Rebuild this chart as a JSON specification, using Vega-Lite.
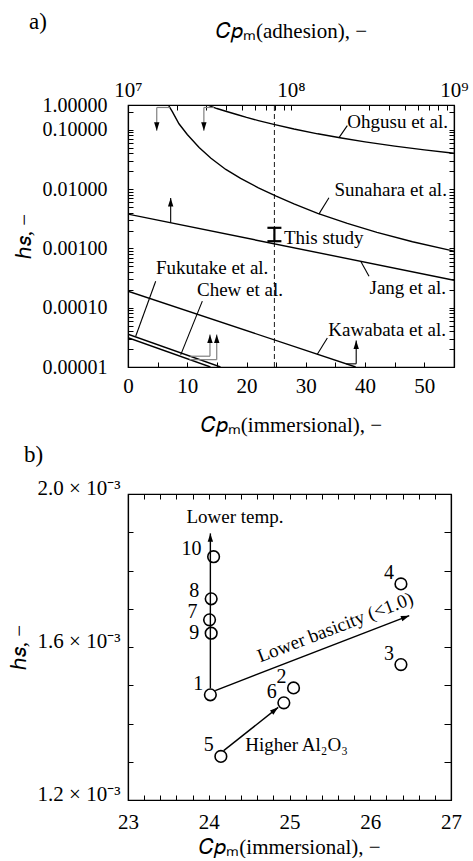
{
  "$schema": "https://vega.github.io/schema/vega-lite/v6.json",
  "background": "white",
  "padding": {"left": 7, "top": 10, "right": 5, "bottom": 0},
  "bounds": "flush",
  "spacing": 127,
  "config": {
    "font": "Liberation Serif",
    "view": {"stroke": "black", "strokeWidth": 1.2},
    "axis": {
      "grid": false, "domainColor": "black", "domainWidth": 1.2, "tickColor": "black", "tickWidth": 1,
      "labelColor": "black", "titleColor": "black", "labelFont": "Liberation Serif", "titleFont": "Liberation Serif",
      "labelFontSize": 21, "titleFontSize": 21, "titleFontWeight": "normal", "tickSize": -5, "labelPadding": 16,
      "labelFlush": false, "labelOverlap": false, "labelBound": false
    },
    "text": {"font": "Liberation Serif", "fontSize": 19, "color": "black"},
    "title": {"font": "Liberation Serif", "fontSize": 23, "fontWeight": "normal", "color": "black"}
  },
  "datasets": {
    "curves": [
      {"series": "Ohgusu", "cp": 13.5, "hs": 0.261},
      {"series": "Ohgusu", "cp": 14, "hs": 0.248},
      {"series": "Ohgusu", "cp": 15, "hs": 0.2275},
      {"series": "Ohgusu", "cp": 16.5, "hs": 0.2046},
      {"series": "Ohgusu", "cp": 18.5, "hs": 0.1786},
      {"series": "Ohgusu", "cp": 20, "hs": 0.1614},
      {"series": "Ohgusu", "cp": 22, "hs": 0.1426},
      {"series": "Ohgusu", "cp": 24.6, "hs": 0.123},
      {"series": "Ohgusu", "cp": 28, "hs": 0.1028},
      {"series": "Ohgusu", "cp": 32, "hs": 0.0853},
      {"series": "Ohgusu", "cp": 36, "hs": 0.0724},
      {"series": "Ohgusu", "cp": 40, "hs": 0.0624},
      {"series": "Ohgusu", "cp": 45, "hs": 0.053},
      {"series": "Ohgusu", "cp": 50, "hs": 0.0457},
      {"series": "Ohgusu", "cp": 55, "hs": 0.04},
      {"series": "Sunahara", "cp": 6.8, "hs": 0.261},
      {"series": "Sunahara", "cp": 7.5, "hs": 0.2},
      {"series": "Sunahara", "cp": 8.6, "hs": 0.126},
      {"series": "Sunahara", "cp": 10, "hs": 0.0832},
      {"series": "Sunahara", "cp": 12, "hs": 0.0501},
      {"series": "Sunahara", "cp": 14, "hs": 0.0331},
      {"series": "Sunahara", "cp": 16.5, "hs": 0.0214},
      {"series": "Sunahara", "cp": 19, "hs": 0.0151},
      {"series": "Sunahara", "cp": 22, "hs": 0.01047},
      {"series": "Sunahara", "cp": 25, "hs": 0.00759},
      {"series": "Sunahara", "cp": 28, "hs": 0.00562},
      {"series": "Sunahara", "cp": 32, "hs": 0.00389},
      {"series": "Sunahara", "cp": 37, "hs": 0.00263},
      {"series": "Sunahara", "cp": 42, "hs": 0.00186},
      {"series": "Sunahara", "cp": 48, "hs": 0.00129},
      {"series": "Sunahara", "cp": 55, "hs": 0.000897},
      {"series": "Jang", "cp": 0, "hs": 0.00378},
      {"series": "Jang", "cp": 55, "hs": 0.00029},
      {"series": "Kawabata", "cp": 0, "hs": 0.00019},
      {"series": "Kawabata", "cp": 38.4, "hs": 0.00001},
      {"series": "Fukutake", "cp": 0, "hs": 0.0000357},
      {"series": "Fukutake", "cp": 15.6, "hs": 0.00001},
      {"series": "Chew", "cp": 0, "hs": 0.0000311},
      {"series": "Chew", "cp": 13.9, "hs": 0.00001}
    ],
    "segsA": [
      {"kind": "gray", "cp": 4.85, "hs": 0.237, "cp2": 7.05, "hs2": 0.237},
      {"kind": "gray", "cp": 4.85, "hs": 0.237, "cp2": 4.85, "hs2": 0.0962},
      {"kind": "gray", "cp": 12.8, "hs": 0.237, "cp2": 14.5, "hs2": 0.237},
      {"kind": "gray", "cp": 12.8, "hs": 0.237, "cp2": 12.8, "hs2": 0.0962},
      {"kind": "gray", "cp": 10.5, "hs": 0.0000152, "cp2": 13.83, "hs2": 0.0000152},
      {"kind": "gray", "cp": 13.83, "hs": 0.0000152, "cp2": 13.83, "hs2": 0.0000352},
      {"kind": "gray", "cp": 10.37, "hs": 0.0000133, "cp2": 14.97, "hs2": 0.0000133},
      {"kind": "gray", "cp": 14.97, "hs": 0.0000133, "cp2": 14.97, "hs2": 0.0000352},
      {"kind": "black", "cp": 7.2, "hs": 0.0027, "cp2": 7.2, "hs2": 0.00703},
      {"kind": "black", "cp": 36.8, "hs": 0.0000113, "cp2": 38.5, "hs2": 0.0000113},
      {"kind": "black", "cp": 38.5, "hs": 0.0000113, "cp2": 38.5, "hs2": 0.0000279},
      {"kind": "black", "cp": 35.6, "hs": 0.0735, "cp2": 37.0, "hs2": 0.117},
      {"kind": "black", "cp": 32.2, "hs": 0.00378, "cp2": 33.9, "hs2": 0.00711},
      {"kind": "black", "cp": 39.26, "hs": 0.000605, "cp2": 40.66, "hs2": 0.00034},
      {"kind": "black", "cp": 4.67, "hs": 0.000279, "cp2": 1.3, "hs2": 0.000033},
      {"kind": "black", "cp": 12.54, "hs": 0.000129, "cp2": 8.89, "hs2": 0.000016},
      {"kind": "black", "cp": 31.94, "hs": 0.0000164, "cp2": 33.63, "hs2": 0.0000309},
      {"kind": "bar", "cp": 24.7, "hs": 0.00132, "cp2": 24.7, "hs2": 0.00222},
      {"kind": "bar", "cp": 23.52, "hs": 0.00132, "cp2": 25.88, "hs2": 0.00132},
      {"kind": "bar", "cp": 23.52, "hs": 0.00222, "cp2": 25.88, "hs2": 0.00222},
      {"kind": "dash", "cp": 24.7, "hs": 0.00001, "cp2": 24.7, "hs2": 0.261}
    ],
    "headsA": [
      {"dir": "up", "cp": 7.2, "hs": 0.00703},
      {"dir": "up", "cp": 38.5, "hs": 0.0000279},
      {"dir": "up", "cp": 13.83, "hs": 0.0000352},
      {"dir": "up", "cp": 14.97, "hs": 0.0000352},
      {"dir": "down", "cp": 4.85, "hs": 0.0962},
      {"dir": "down", "cp": 12.8, "hs": 0.0962}
    ],
    "labelsA": [
      {"align": "right", "label": "Ohgusu et al.", "cp": 54.0, "hs": 0.1365},
      {"align": "right", "label": "Sunahara et al.", "cp": 53.8, "hs": 0.00948},
      {"align": "right", "label": "Jang et al.", "cp": 53.65, "hs": 0.000215},
      {"align": "right", "label": "Kawabata et al.", "cp": 53.65, "hs": 0.0000427},
      {"align": "left", "label": "This study", "cp": 26.3, "hs": 0.00147},
      {"align": "left", "label": "Fukutake et al.", "cp": 4.72, "hs": 0.000469},
      {"align": "left", "label": "Chew et al.", "cp": 11.64, "hs": 0.000202}
    ],
    "ptsB": [
      {"id": "1", "cp": 24.02, "hs": 0.001475},
      {"id": "2", "cp": 25.05, "hs": 0.001493},
      {"id": "3", "cp": 26.38, "hs": 0.001554},
      {"id": "4", "cp": 26.38, "hs": 0.001765},
      {"id": "5", "cp": 24.15, "hs": 0.001314},
      {"id": "6", "cp": 24.93, "hs": 0.001454},
      {"id": "7", "cp": 24.01, "hs": 0.001671},
      {"id": "8", "cp": 24.03, "hs": 0.001726},
      {"id": "9", "cp": 24.03, "hs": 0.001636},
      {"id": "10", "cp": 24.06, "hs": 0.001836}
    ],
    "segsB": [
      {"cp": 24.02, "hs": 0.001492, "cp2": 24.02, "hs2": 0.001897},
      {"cp": 24.08, "hs": 0.001486, "cp2": 26.483, "hs2": 0.001682},
      {"cp": 24.185, "hs": 0.001329, "cp2": 24.86, "hs2": 0.0014422}
    ],
    "headsB": [
      {"dir": "up", "cp": 24.02, "hs": 0.001897},
      {"dir": "basicity", "cp": 26.483, "hs": 0.001682},
      {"dir": "al", "cp": 24.86, "hs": 0.0014422}
    ],
    "textsB": [
      {"kind": "temp", "label": "Lower temp.", "cp": 24.325, "hs": 0.001939},
      {"kind": "basicity", "label": "Lower basicity (<1.0)", "cp": 25.567, "hs": 0.0016513},
      {"kind": "al", "label": "Higher Al₂O₃", "cp": 24.453, "hs": 0.0013439}
    ]
  },
  "vconcat": [
    {
      "width": 326,
      "height": 262,
      "title": {"text": "a)", "anchor": "start", "frame": "bounds", "dx": 16, "dy": 18},
      "resolve": {"scale": {"x": "independent"}, "axis": {"x": "independent", "y": "independent"}},
      "layer": [
        {
          "encoding": {
            "x": {
              "field": "cp", "type": "quantitative",
              "scale": {"domain": [0, 55], "nice": false, "zero": false},
              "axis": {
                "values": [0, 5, 10, 15, 20, 25, 30, 35, 40, 45, 50, 55],
                "labelExpr": "datum.value % 10 == 0 ? datum.label : ''",
                "labelPadding": 13,
                "title": "𝐶𝑝ₘ(immersional), −", "titlePadding": 18
              }
            },
            "y": {
              "field": "hs", "type": "quantitative",
              "scale": {"type": "log", "domain": [0.00001, 0.261], "nice": false},
              "axis": {
                "values": [0.00001, 0.00002, 0.00003, 0.00004, 0.00005, 0.00006, 0.00007, 0.00008, 0.00009,
                           0.0001, 0.0002, 0.0003, 0.0004, 0.0005, 0.0006, 0.0007, 0.0008, 0.0009,
                           0.001, 0.002, 0.003, 0.004, 0.005, 0.006, 0.007, 0.008, 0.009,
                           0.01, 0.02, 0.03, 0.04, 0.05, 0.06, 0.07, 0.08, 0.09, 0.1, 0.2, 0.261],
                "labelExpr": "datum.value > 0.25 ? '1.00000' : (indexof([0.00001, 0.0001, 0.001, 0.01, 0.1], datum.value) >= 0 ? format(datum.value, '.5f') : '')",
                "labelPadding": 26, "labelFontSize": 20,
                "title": "ℎ𝑠, −", "titlePadding": 8
              }
            }
          },
          "layer": [
            {
              "data": {"name": "curves"},
              "mark": {"type": "line", "color": "black", "strokeWidth": 1.4, "clip": true},
              "encoding": {"detail": {"field": "series"}}
            },
            {
              "data": {"name": "segsA"},
              "transform": [{"filter": "datum.kind == 'gray'"}],
              "mark": {"type": "rule", "color": "#808080", "strokeWidth": 1.2},
              "encoding": {"x2": {"field": "cp2"}, "y2": {"field": "hs2"}}
            },
            {
              "data": {"name": "segsA"},
              "transform": [{"filter": "datum.kind == 'black'"}],
              "mark": {"type": "rule", "color": "black", "strokeWidth": 1.1},
              "encoding": {"x2": {"field": "cp2"}, "y2": {"field": "hs2"}}
            },
            {
              "data": {"name": "segsA"},
              "transform": [{"filter": "datum.kind == 'bar'"}],
              "mark": {"type": "rule", "color": "black", "strokeWidth": 2.2},
              "encoding": {"x2": {"field": "cp2"}, "y2": {"field": "hs2"}}
            },
            {
              "data": {"name": "segsA"},
              "transform": [{"filter": "datum.kind == 'dash'"}],
              "mark": {"type": "rule", "color": "black", "strokeWidth": 0.9, "strokeDash": [5, 3]},
              "encoding": {"x2": {"field": "cp2"}, "y2": {"field": "hs2"}}
            },
            {
              "data": {"name": "headsA"},
              "transform": [{"filter": "datum.dir == 'up'"}],
              "mark": {"type": "point", "shape": "M0,0L-0.45,1.4L0.45,1.4Z", "size": 144, "filled": true, "color": "black", "opacity": 1}
            },
            {
              "data": {"name": "headsA"},
              "transform": [{"filter": "datum.dir == 'down'"}],
              "mark": {"type": "point", "shape": "M0,0L-0.45,-1.4L0.45,-1.4Z", "size": 144, "filled": true, "color": "black", "opacity": 1}
            },
            {
              "data": {"name": "labelsA"},
              "transform": [{"filter": "datum.align == 'right'"}],
              "mark": {"type": "text", "align": "right", "baseline": "middle", "fontSize": 19},
              "encoding": {"text": {"field": "label"}}
            },
            {
              "data": {"name": "labelsA"},
              "transform": [{"filter": "datum.align == 'left'"}],
              "mark": {"type": "text", "align": "left", "baseline": "middle", "fontSize": 19},
              "encoding": {"text": {"field": "label"}}
            }
          ]
        },
        {
          "data": {"values": [{"adh": 10000000, "hs": 0.00001}, {"adh": 1000000000, "hs": 0.261}]},
          "mark": {"type": "point", "opacity": 0},
          "encoding": {
            "x": {
              "field": "adh", "type": "quantitative",
              "scale": {"type": "log", "domain": [10000000, 1000000000], "nice": false},
              "axis": {
                "orient": "top",
                "values": [10000000, 20000000, 30000000, 40000000, 50000000, 60000000, 70000000, 80000000, 90000000,
                           100000000, 200000000, 300000000, 400000000, 500000000, 600000000, 700000000, 800000000, 900000000, 1000000000],
                "labelExpr": "datum.value == 10000000 ? '10⁷' : datum.value == 100000000 ? '10⁸' : datum.value == 1000000000 ? '10⁹' : ''",
                "labelPadding": 10,
                "title": "𝐶𝑝ₘ(adhesion), −", "titlePadding": 38
              }
            },
            "y": {
              "field": "hs", "type": "quantitative",
              "scale": {"type": "log", "domain": [0.00001, 0.261], "nice": false},
              "axis": {
                "orient": "right", "labels": false, "title": null,
                "values": [0.00001, 0.00002, 0.00003, 0.00004, 0.00005, 0.00006, 0.00007, 0.00008, 0.00009,
                           0.0001, 0.0002, 0.0003, 0.0004, 0.0005, 0.0006, 0.0007, 0.0008, 0.0009,
                           0.001, 0.002, 0.003, 0.004, 0.005, 0.006, 0.007, 0.008, 0.009,
                           0.01, 0.02, 0.03, 0.04, 0.05, 0.06, 0.07, 0.08, 0.09, 0.1, 0.2]
              }
            }
          }
        }
      ]
    },
    {
      "width": 323,
      "height": 306,
      "title": {"text": "b)", "anchor": "start", "frame": "bounds", "dx": 16, "dy": -6},
      "resolve": {"axis": {"x": "independent", "y": "independent"}},
      "layer": [
        {
          "encoding": {
            "x": {
              "field": "cp", "type": "quantitative",
              "scale": {"domain": [23, 27], "nice": false, "zero": false},
              "axis": {
                "values": [23, 23.2, 23.4, 23.6, 23.8, 24, 24.2, 24.4, 24.6, 24.8, 25, 25.2, 25.4, 25.6, 25.8, 26, 26.2, 26.4, 26.6, 26.8, 27],
                "labelExpr": "datum.value % 1 == 0 ? format(datum.value, 'd') : ''",
                "labelPadding": 16,
                "title": "𝐶𝑝ₘ(immersional), −", "titlePadding": 4
              }
            },
            "y": {
              "field": "hs", "type": "quantitative",
              "scale": {"domain": [0.0012, 0.002], "nice": false, "zero": false},
              "axis": {
                "values": [0.0012, 0.0013, 0.0014, 0.0015, 0.0016, 0.0017, 0.0018, 0.0019, 0.002],
                "labelExpr": "datum.value == 0.0012 ? '1.2 × 10⁻³' : datum.value == 0.0016 ? '1.6 × 10⁻³' : datum.value == 0.002 ? '2.0 × 10⁻³' : ''",
                "labelBaseline": "alphabetic",
                "labelPadding": 13,
                "title": "ℎ𝑠, −", "titlePadding": 8
              }
            }
          },
          "layer": [
            {
              "data": {"name": "segsB"},
              "mark": {"type": "rule", "color": "black", "strokeWidth": 1.4},
              "encoding": {"x2": {"field": "cp2"}, "y2": {"field": "hs2"}}
            },
            {
              "data": {"name": "headsB"},
              "transform": [{"filter": "datum.dir == 'up'"}],
              "mark": {"type": "point", "shape": "M0,0L-0.45,1.4L0.45,1.4Z", "size": 144, "filled": true, "color": "black", "opacity": 1}
            },
            {
              "data": {"name": "headsB"},
              "transform": [{"filter": "datum.dir == 'basicity'"}],
              "mark": {"type": "point", "shape": "M0,0L-0.45,1.4L0.45,1.4Z", "size": 144, "filled": true, "color": "black", "opacity": 1, "angle": 69}
            },
            {
              "data": {"name": "headsB"},
              "transform": [{"filter": "datum.dir == 'al'"}],
              "mark": {"type": "point", "shape": "M0,0L-0.45,1.4L0.45,1.4Z", "size": 144, "filled": true, "color": "black", "opacity": 1, "angle": 51}
            },
            {
              "data": {"name": "ptsB"},
              "mark": {"type": "point", "shape": "circle", "size": 135, "filled": true, "fill": "white", "stroke": "black", "strokeWidth": 1.6, "opacity": 1, "fillOpacity": 0}
            },
            {
              "data": {"name": "ptsB"},
              "transform": [{"filter": "indexof(['1','2','3','4','5','6'], datum.id) >= 0"}],
              "mark": {"type": "text", "align": "right", "baseline": "middle", "dx": -7, "dy": -11, "fontSize": 20},
              "encoding": {"text": {"field": "id"}}
            },
            {
              "data": {"name": "ptsB"},
              "transform": [{"filter": "indexof(['7','8','10'], datum.id) >= 0"}],
              "mark": {"type": "text", "align": "right", "baseline": "middle", "dx": -12, "dy": -8, "fontSize": 20},
              "encoding": {"text": {"field": "id"}}
            },
            {
              "data": {"name": "ptsB"},
              "transform": [{"filter": "datum.id == '9'"}],
              "mark": {"type": "text", "align": "right", "baseline": "middle", "dx": -12, "dy": 0, "fontSize": 20},
              "encoding": {"text": {"field": "id"}}
            },
            {
              "data": {"name": "textsB"},
              "transform": [{"filter": "datum.kind == 'temp'"}],
              "mark": {"type": "text", "align": "center", "baseline": "middle", "fontSize": 19},
              "encoding": {"text": {"field": "label"}}
            },
            {
              "data": {"name": "textsB"},
              "transform": [{"filter": "datum.kind == 'basicity'"}],
              "mark": {"type": "text", "align": "center", "baseline": "middle", "fontSize": 19, "angle": -21},
              "encoding": {"text": {"field": "label"}}
            },
            {
              "data": {"name": "textsB"},
              "transform": [{"filter": "datum.kind == 'al'"}],
              "mark": {"type": "text", "align": "left", "baseline": "middle", "fontSize": 19},
              "encoding": {"text": {"field": "label"}}
            }
          ]
        },
        {
          "data": {"values": [{"cp": 23, "hs": 0.0012}, {"cp": 27, "hs": 0.002}]},
          "mark": {"type": "point", "opacity": 0},
          "encoding": {
            "x": {
              "field": "cp", "type": "quantitative",
              "scale": {"domain": [23, 27], "nice": false, "zero": false},
              "axis": {
                "orient": "top", "labels": false, "title": null,
                "values": [23, 23.2, 23.4, 23.6, 23.8, 24, 24.2, 24.4, 24.6, 24.8, 25, 25.2, 25.4, 25.6, 25.8, 26, 26.2, 26.4, 26.6, 26.8, 27]
              }
            },
            "y": {
              "field": "hs", "type": "quantitative",
              "scale": {"domain": [0.0012, 0.002], "nice": false, "zero": false},
              "axis": {
                "orient": "right", "labels": false, "title": null, "tickSize": -7,
                "values": [0.0012, 0.0013, 0.0014, 0.0015, 0.0016, 0.0017, 0.0018, 0.0019, 0.002]
              }
            }
          }
        }
      ]
    }
  ]
}
